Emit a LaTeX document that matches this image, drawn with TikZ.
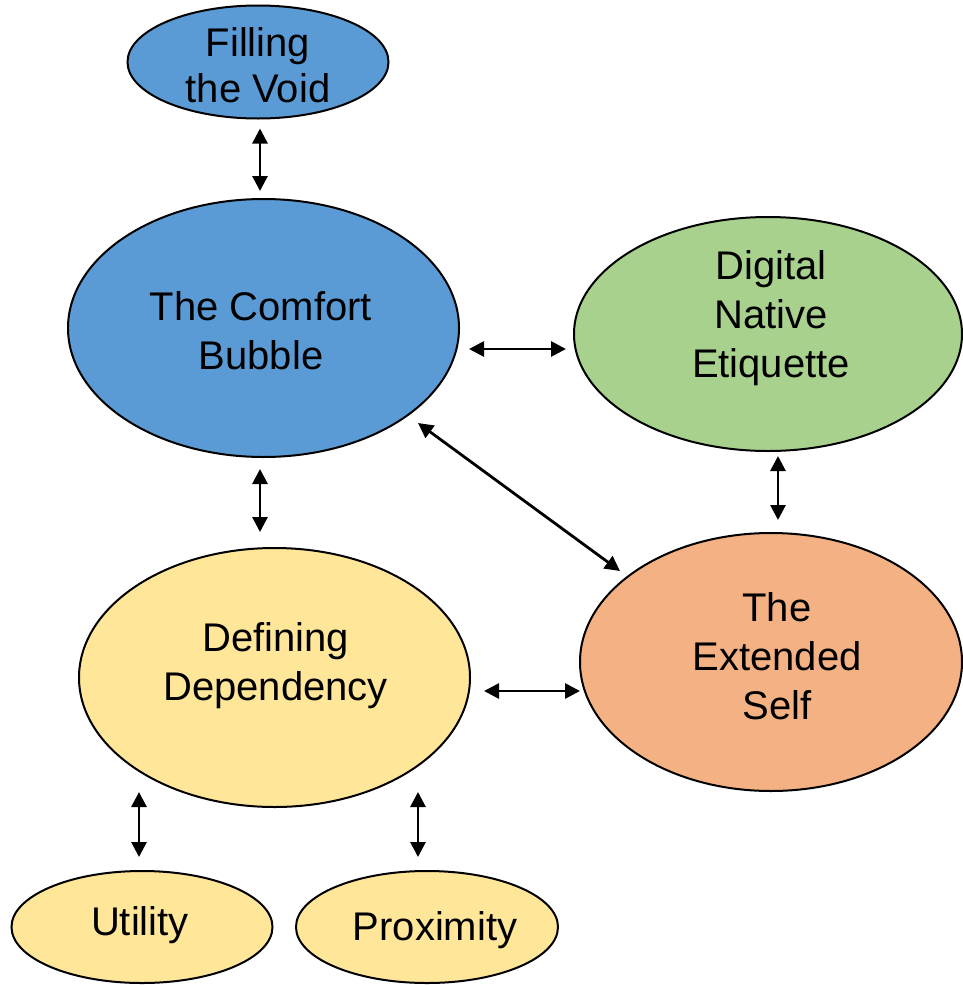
\documentclass[tikz,border=0pt]{standalone}
\usepackage{fontspec}
\setmainfont{Liberation Sans}
\usetikzlibrary{shapes.geometric,arrows.meta,calc}
\definecolor{cblue}{HTML}{5B9BD5}
\definecolor{cgreen}{HTML}{A9D18E}
\definecolor{corange}{HTML}{F4B183}
\definecolor{cyellow}{HTML}{FFE699}
\tikzset{
  bubble/.style={ellipse, draw=black, line width=2pt, inner sep=0pt},
  txt/.style={font=\fontsize{40}{49}\selectfont, align=center, inner sep=0pt},
  arr/.style={line width=2.8pt, {Triangle[length=15pt,width=15pt]}-{Triangle[length=15pt,width=15pt]}}
}
\begin{document}
\begin{tikzpicture}[x=1pt,y=-1pt]
\useasboundingbox (0,0) rectangle (963,985);
\node[bubble, fill=cblue, minimum width=261pt, minimum height=113pt] (fill) at (258,62) {};
\node[txt, font=\fontsize{40}{46}\selectfont] (filltxt) at (258,65) {Filling\\the Void};
\node[bubble, fill=cblue, minimum width=391pt, minimum height=258pt] (comfort) at (263.5,328) {};
\node[txt] (comforttxt) at (261,331) {The Comfort\\Bubble};
\node[bubble, fill=cgreen, minimum width=388pt, minimum height=234pt] (digital) at (768,334) {};
\node[txt] (digitaltxt) at (771,318) {Digital\\Native\\Etiquette};
\node[bubble, fill=corange, minimum width=382pt, minimum height=258pt] (extended) at (771,662) {};
\node[txt] (extendedtxt) at (777,656) {The\\Extended\\Self};
\node[bubble, fill=cyellow, minimum width=391pt, minimum height=259pt] (defining) at (274.5,677.5) {};
\node[txt] (definingtxt) at (275.5,666) {Defining\\Dependency};
\node[bubble, fill=cyellow, minimum width=261pt, minimum height=112pt] (utility) at (142,927) {};
\node[txt] (utilitytxt) at (140,925) {Utility};
\node[bubble, fill=cyellow, minimum width=262pt, minimum height=112pt] (proximity) at (427,927) {};
\node[txt] (proximitytxt) at (435,930) {Proximity};
% connectors
\draw[arr] ($(fill.south)+(2,9)$) -- ($(comfort.north)+(-3.5,-7)$);
\draw[arr] ($(comfort.east)+(9,21)$) -- ($(digital.west)+(-7,15)$);
\draw[arr] ($(comfort)+(154.5,95)$) -- ($(extended)+(-151,-91)$);
\draw[arr] ($(digital.south)+(10,4)$) -- ($(extended.north)+(7,-12)$);
\draw[arr] ($(comfort.south)+(-3.5,11)$) -- ($(defining.north)+(-14.5,-15)$);
\draw[arr] ($(defining.east)+(13,13.5)$) -- ($(extended.west)+(1,29)$);
\draw[arr] ($(defining)+(-135.5,114.5)$) -- ($(utility.north)+(-3,-13)$);
\draw[arr] ($(defining)+(143.5,114.5)$) -- ($(proximity.north)+(-9,-13)$);
\end{tikzpicture}
\end{document}
